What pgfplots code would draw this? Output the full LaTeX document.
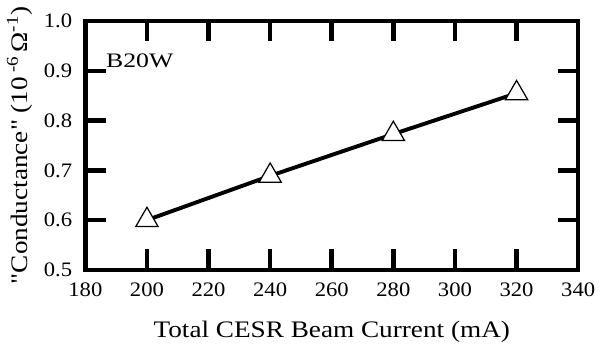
\documentclass[border=0pt]{standalone}
\usepackage{fontspec}
\setmainfont{Liberation Serif}[Ligatures=TeXOff, FakeStretch=1.1]
\newfontfamily\labelfont{Liberation Serif}[Ligatures=TeXOff, FakeStretch=1.15]
\newfontfamily\bfont{Liberation Serif}[Ligatures=TeXOff, FakeStretch=1.25]
\usepackage{pgfplots}
\pgfplotsset{compat=1.18}
\begin{document}
\begin{tikzpicture}
\fontsize{20}{24}\selectfont
\begin{axis}[
  scale only axis,
  width=479pt, height=241.7pt,
  xmin=180, xmax=340, ymin=0.5, ymax=1.0,
  xtick={180,200,...,340},
  ytick={0.5,0.6,0.7,0.8,0.9,1.0},
  yticklabel style={/pgf/number format/fixed, /pgf/number format/fixed zerofill, /pgf/number format/precision=1, xshift=-6pt},
  /pgf/number format/assume math mode=true,
  tick label style={font=\fontsize{20}{24}\selectfont},
  xticklabel style={yshift=-6pt},
  every axis x label/.style={at={(axis description cs:0.5,0)}, yshift=-60pt, anchor=center, font=\labelfont\fontsize{23}{27}\selectfont},
  every axis y label/.style={at={(axis description cs:0,0.5)}, xshift=-64pt, rotate=90, anchor=center, font=\labelfont\fontsize{23}{27}\selectfont},
  axis line style={line width=4.5pt},
  major tick length=0pt,
  xlabel={Total CESR Beam Current (mA)},
  ylabel={"Conductance" (10\,\textsuperscript{-6}\,Ω\textsuperscript{-1})},
  clip=false,
]
\draw[line width=4.5pt] (axis cs:200,0.5) -- (axis cs:200,0.5414);
\draw[line width=4.5pt] (axis cs:220,0.5) -- (axis cs:220,0.5414);
\draw[line width=4.5pt] (axis cs:240,0.5) -- (axis cs:240,0.5414);
\draw[line width=4.5pt] (axis cs:260,0.5) -- (axis cs:260,0.5414);
\draw[line width=4.5pt] (axis cs:280,0.5) -- (axis cs:280,0.5414);
\draw[line width=4.5pt] (axis cs:300,0.5) -- (axis cs:300,0.5414);
\draw[line width=4.5pt] (axis cs:320,0.5) -- (axis cs:320,0.5414);
\draw[line width=4.5pt] (axis cs:200,1.0) -- (axis cs:200,0.961);
\draw[line width=4.5pt] (axis cs:220,1.0) -- (axis cs:220,0.961);
\draw[line width=4.5pt] (axis cs:240,1.0) -- (axis cs:240,0.961);
\draw[line width=4.5pt] (axis cs:260,1.0) -- (axis cs:260,0.961);
\draw[line width=4.5pt] (axis cs:280,1.0) -- (axis cs:280,0.961);
\draw[line width=4.5pt] (axis cs:300,1.0) -- (axis cs:300,0.961);
\draw[line width=4.5pt] (axis cs:320,1.0) -- (axis cs:320,0.961);
\draw[line width=4.5pt] (axis cs:180,0.6) -- (axis cs:186.7,0.6);
\draw[line width=4.5pt] (axis cs:180,0.7) -- (axis cs:186.7,0.7);
\draw[line width=4.5pt] (axis cs:180,0.8) -- (axis cs:186.7,0.8);
\draw[line width=4.5pt] (axis cs:180,0.9) -- (axis cs:186.7,0.9);
\draw[line width=4.5pt] (axis cs:340,0.6) -- (axis cs:333.3,0.6);
\draw[line width=4.5pt] (axis cs:340,0.7) -- (axis cs:333.3,0.7);
\draw[line width=4.5pt] (axis cs:340,0.8) -- (axis cs:333.3,0.8);
\draw[line width=4.5pt] (axis cs:340,0.9) -- (axis cs:333.3,0.9);
\addplot[black, line width=3.8pt, mark=triangle*, mark size=12.5pt,
  mark options={fill=white, draw=black, line width=1.2pt}]
  coordinates {(200,0.600) (240,0.689) (280,0.773) (320,0.855)};
\node[anchor=base west, inner sep=0pt, font=\bfont\fontsize{20}{24}\selectfont] at (axis cs:186.7,0.9075) {B20W};
\end{axis}
\end{tikzpicture}
\end{document}
